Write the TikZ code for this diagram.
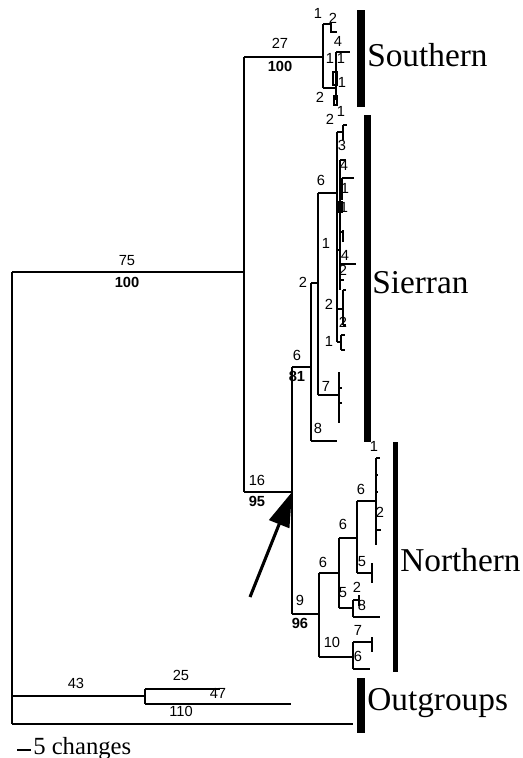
\documentclass[tikz,border=0pt]{standalone}
\usepackage{fontspec}
\setmainfont{Liberation Serif}
\setsansfont{Liberation Sans}
\usetikzlibrary{arrows.meta}
\begin{document}
\begin{tikzpicture}[x=0.75pt,y=-0.75pt,
  br/.style={line width=0.8pt},
  num/.style={font=\sffamily\fontsize{11}{12}\selectfont, inner sep=0pt},
  bnum/.style={font=\sffamily\bfseries\fontsize{11}{12}\selectfont, inner sep=0pt},
  clade/.style={font=\fontsize{25}{30}\selectfont, anchor=west, inner sep=0pt},
  bar/.style={fill=black, draw=none}]
\useasboundingbox (0,0) rectangle (523,758);
% main internal nodes
\coordinate (root) at (12,272);
\coordinate (ingroup) at (244,272);
\coordinate (south) at (323,57);
\coordinate (sn) at (292,492);
\coordinate (nor) at (319,614);
% backbone
\draw[br] (12,272) -- (12,724);
\draw[br] (root) -- (ingroup);
\draw[br] (244,57) -- (244,492);
\draw[br] (244,57) -- (south);
% Southern clade
\draw[br] (323,24) -- (323,88);
\draw[br] (323,24) -- (331,24) -- (331,32) -- (337,32);
\draw[br] (323,88) -- (336,88);
\draw[br] (336,52) -- (336,100);
\draw[br] (336,52) -- (350,52);
\draw[br] (333,72) rectangle (337,85);
\draw[br] (334,96) rectangle (337,105);
% Sierran + Northern
\draw[br] (244,492) -- (sn);
\draw[br] (292,367) -- (292,614);
\draw[br] (292,367) -- (311,367);
\draw[br] (311,283) -- (311,441);
\draw[br] (311,441) -- (337,441);
\draw[br] (311,283) -- (318,283);
\draw[br] (318,193) -- (318,395);
\draw[br] (318,395) -- (339,395);
\draw[br] (339,372) -- (339,423);
\draw[br] (339,388) -- (342,388);
\draw[br] (339,403) -- (342,403);
\draw[br] (318,193) -- (337,193);
\draw[br] (337,132) -- (337,342);
\draw[br] (337,132) -- (343,132);
\draw[br] (343,125) -- (343,140);
\draw[br] (343,125) -- (347,125);
\draw[br] (340,160) -- (340,290);
\draw[br] (337,250) -- (340,250);
\draw[br] (340,160) -- (346,160);
\draw[br] (342,178) -- (354,178);
\draw[br] (342,178) -- (342,200);
\draw[br] (339,202) rectangle (342,212);
\draw[br] (340,232) -- (343,232);
\draw[br] (343,230) -- (343,242);
\draw[br] (340,264) -- (356,264);
\draw[br] (340,280) -- (344,280);
\draw[br] (337,309) -- (343,309);
\draw[br] (343,290) -- (343,325);
\draw[br] (343,290) -- (346,290);
\draw[br] (343,325) -- (346,325);
\draw[br] (337,342) -- (341,342);
\draw[br] (341,335) -- (341,350);
\draw[br] (341,335) -- (345,335);
\draw[br] (341,350) -- (345,350);
% Northern clade
\draw[br] (292,614) -- (nor);
\draw[br] (319,573) -- (319,657);
\draw[br] (319,573) -- (339,573);
\draw[br] (339,538) -- (339,608);
\draw[br] (339,538) -- (357,538);
\draw[br] (357,501) -- (357,573);
\draw[br] (357,501) -- (376,501);
\draw[br] (376,458) -- (376,545);
\draw[br] (376,458) -- (380,458);
\draw[br] (376,475) -- (378,475);
\draw[br] (376,492) -- (378,492);
\draw[br] (376,530) -- (381,530);
\draw[br] (357,573) -- (372,573);
\draw[br] (372,563) -- (372,583);
\draw[br] (339,608) -- (353,608);
\draw[br] (353,600) -- (353,617);
\draw[br] (353,600) -- (359,600);
\draw[br] (359,595) -- (359,606);
\draw[br] (353,617) -- (380,617);
\draw[br] (319,657) -- (353,657);
\draw[br] (353,642) -- (353,669);
\draw[br] (353,642) -- (372,642);
\draw[br] (372,637) -- (372,652);
\draw[br] (353,669) -- (370,669);
% Outgroups
\draw[br] (12,696) -- (145,696);
\draw[br] (145,689) -- (145,704);
\draw[br] (145,689) -- (220,689);
\draw[br] (145,704) -- (291,704);
\draw[br] (12,724) -- (353,724);
% branch lengths
\foreach \x/\y/\t [count=\i] in {
  127/261/75, 280/43/27, 257/480/16,
  318/13/1, 333/18/2, 338/41/4, 330/58/1, 341/58/1, 342/82/1, 320/97/2,
  341/111/1, 330/119/2, 342/145/3, 344/165/4, 321/180/6, 345/188/1, 344/207/1,
  326/243/1, 345/255/4, 343/270/2, 329/304/2, 343/322/2, 329/341/1,
  303/282/2, 297/355/6, 326/386/7, 318/428/8,
  374/446/1, 361/489/6, 380/512/2, 343/524/6, 362/562/5, 323/562/6,
  343/593/5, 357/587/2, 362/605/8, 300/600/9, 332/642/10, 358/630/7, 358/656/6,
  76/683/43, 181/675/25, 218/693/47, 181/711/110}
  \node[num] (n\i) at (\x,\y) {\t};
% bootstrap
\foreach \x/\y/\t [count=\i] in {127/282/100, 280/66/100, 257/501/95, 297/376/81, 300/623/96}
  \node[bnum] (b\i) at (\x,\y) {\t};
% clade bars and names
\fill[bar] (357,10) rectangle (365,107);
\fill[bar] (364,115) rectangle (371,442);
\fill[bar] (393,442) rectangle (398,672);
\fill[bar] (357,678) rectangle (365,733);
\node[clade] (southern) at (367,55) {Southern};
\node[clade] (sierran) at (372,283) {Sierran};
\node[clade] (northern) at (400,560) {Northern};
\node[clade] (outgroups) at (367,703) {Outgroups};
% arrow
\coordinate (tail) at (250,597);
\draw[line width=2.3pt, -{Triangle[length=26pt,width=16pt]}] (tail) -- (sn);
% scale bar
\coordinate (s1) at (17,750);
\coordinate (s2) at (31,750);
\draw[br] (s1) -- (s2);
\node[anchor=base west, inner sep=0pt, font=\fontsize{18.5}{22}\selectfont] (scale) at (33,754) {5 changes};
\end{tikzpicture}
\end{document}
